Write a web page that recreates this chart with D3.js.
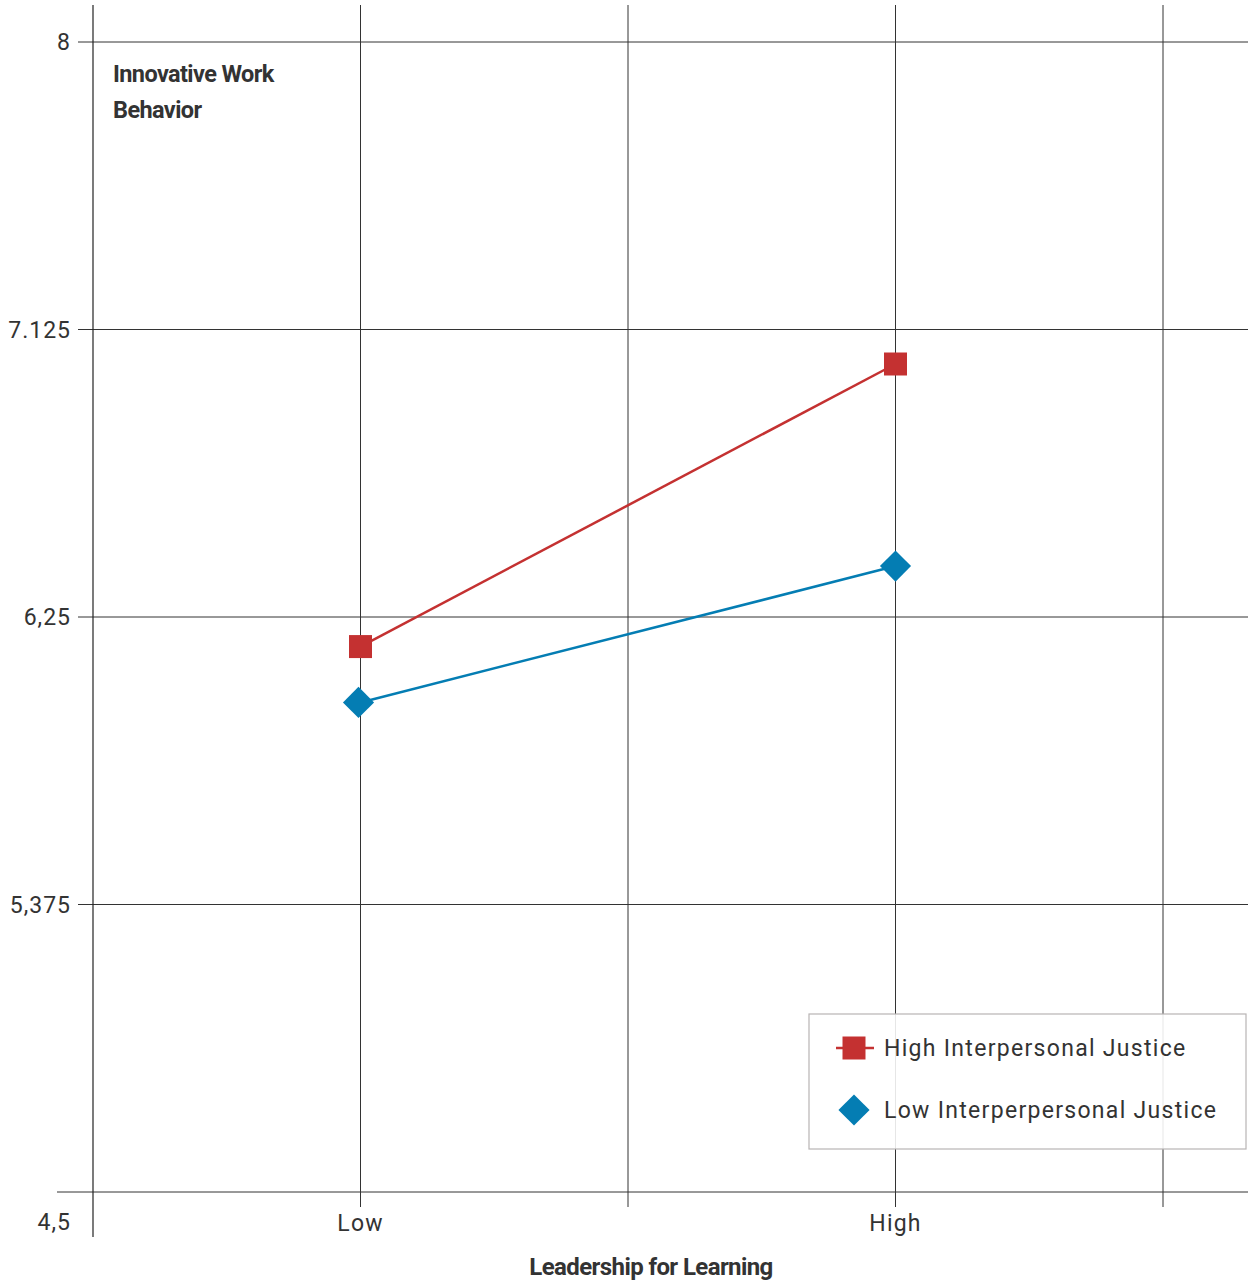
<!DOCTYPE html>
<html>
<head>
<meta charset="utf-8">
<script src="https://cdn.jsdelivr.net/npm/d3@7"></script>
<style>
  body { margin: 0; background: #fff; }
  text { font-family: Roboto, "Noto Sans", sans-serif; fill: #333; }
</style>
</head>
<body>
<svg width="1248" height="1280"></svg>
<script>
// data
const categories = ["Low", "High"];
const catPos = [1, 3];
const seriesNames = ["High Interpersonal Justice", "Low Interperpersonal Justice"];
const highIJ = [6.16, 7.02];
const lowIJ = [5.99, 6.405];
const yTicks = [8, 7.125, 6.25, 5.375, 4.5];
const yTickLabels = ["8", "7.125", "6,25", "5,375", "4,5"];
const xGrid = [1, 2, 3, 4];

const colors = ["#c43131", "#047db3"];

const sv = d3.select("svg");

const x = d3.scaleLinear().domain([0, 4]).range([93, 1163]);
const y = d3.scaleLinear().domain([4.5, 8]).range([1192, 42]);

// horizontal grid
sv.append("g").selectAll("line")
    .data(yTicks)
    .enter()
    .append("line")
    .attr("x1", function (d) { return d === 4.5 ? 57 : 78; })
    .attr("x2", 1248)
    .attr("y1", function (d) { return y(d); })
    .attr("y2", function (d) { return y(d); })
    .attr("stroke", "#333")
    .attr("stroke-width", 1);

// vertical grid
sv.append("g").selectAll("line")
    .data(xGrid)
    .enter()
    .append("line")
    .attr("x1", function (d) { return x(d); })
    .attr("x2", function (d) { return x(d); })
    .attr("y1", 5)
    .attr("y2", 1207)
    .attr("stroke", "#333")
    .attr("stroke-width", 1);

// y axis line
sv.append("line")
    .attr("x1", x(0)).attr("x2", x(0))
    .attr("y1", 5).attr("y2", 1237)
    .attr("stroke", "#222")
    .attr("stroke-width", 1.2);

// y tick labels
sv.append("g").selectAll("text")
    .data(yTicks)
    .enter()
    .append("text")
    .attr("x", 71)
    .attr("y", function (d) { return d === 4.5 ? y(d) + 30 : y(d); })
    .attr("dy", "0.35em")
    .attr("text-anchor", "end")
    .attr("font-size", 23)
    .attr("letter-spacing", "1px")
    .text(function (d, i) { return yTickLabels[i]; });

// x tick labels
sv.append("g").selectAll("text")
    .data(categories)
    .enter()
    .append("text")
    .attr("x", function (d, i) { return x(catPos[i]); })
    .attr("y", 1231)
    .attr("text-anchor", "middle")
    .attr("font-size", 23)
    .attr("letter-spacing", "1.2px")
    .text(function (d) { return d; });

// titles
const t = sv.append("text")
    .attr("x", 113)
    .attr("y", 82)
    .attr("font-size", 23.5)
    .attr("font-weight", "bold")
    .attr("letter-spacing", "-0.6px");
t.append("tspan").attr("x", 113).text("Innovative Work");
t.append("tspan").attr("x", 113).attr("dy", 36).text("Behavior");

sv.append("text")
    .attr("x", 651)
    .attr("y", 1275)
    .attr("text-anchor", "middle")
    .attr("font-size", 24)
    .attr("font-weight", "bold")
    .attr("letter-spacing", "-0.6px")
    .text("Leadership for Learning");

// lines
const line = d3.line()
    .x(function (d, i) { return x(catPos[i]); })
    .y(function (d) { return y(d); });

[highIJ, lowIJ].forEach(function (s, k) {
    sv.append("path")
        .attr("d", line(s))
        .attr("fill", "none")
        .attr("stroke", colors[k])
        .attr("stroke-width", 2.5);
});

// markers
const sq = d3.symbol().type(d3.symbolSquare).size(23 * 23);
const dm = d3.symbol().type(d3.symbolSquare).size(22 * 22);

sv.append("g").selectAll("path")
    .data(highIJ)
    .enter()
    .append("path")
    .attr("transform", function (d, i) { return "translate(" + x(catPos[i]) + "," + y(d) + ")"; })
    .attr("d", sq)
    .attr("fill", colors[0]);

sv.append("g").selectAll("path")
    .data(lowIJ)
    .enter()
    .append("path")
    .attr("transform", function (d, i) { return "translate(" + (x(catPos[i]) - (i === 0 ? 2 : 0)) + "," + y(d) + ") rotate(45)"; })
    .attr("d", dm)
    .attr("fill", colors[1]);

// legend
const lg = sv.append("g").attr("transform", "translate(809,1014)");
lg.append("rect")
    .attr("width", 437)
    .attr("height", 135)
    .attr("fill", "rgba(255,255,255,0.88)")
    .attr("stroke", "#b8b4b4")
    .attr("stroke-width", 1.2);

const items = lg.selectAll("g.item")
    .data(seriesNames)
    .enter()
    .append("g")
    .attr("class", "item")
    .attr("transform", function (d, i) { return "translate(0," + (34 + i * 62) + ")"; });

items.filter(function (d, i) { return i === 0; })
    .append("line")
    .attr("x1", 27).attr("x2", 65)
    .attr("stroke", colors[0]).attr("stroke-width", 2.5);

items.append("path")
    .attr("transform", function (d, i) { return "translate(45,0)" + (i === 1 ? " rotate(45)" : ""); })
    .attr("d", function (d, i) { return i === 0 ? sq() : dm(); })
    .attr("fill", function (d, i) { return colors[i]; });

items.append("text")
    .attr("x", 75)
    .attr("dy", "0.35em")
    .attr("font-size", 23)
    .attr("letter-spacing", "1.3px")
    .text(function (d) { return d; });
</script>
</body>
</html>
